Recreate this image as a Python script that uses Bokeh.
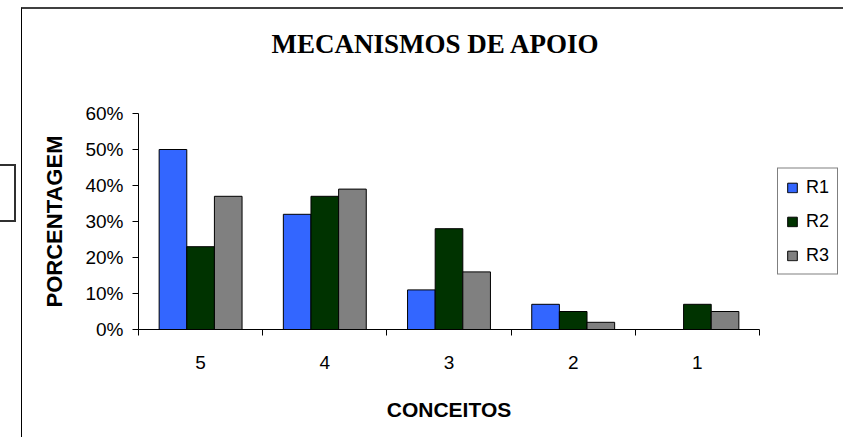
from bokeh.plotting import figure
from bokeh.models import (Range1d, FixedTicker, PrintfTickFormatter, Legend, LegendItem,
                          ColumnDataSource, InlineStyleSheet, Title)
from bokeh.embed import file_html
from bokeh.resources import INLINE

# ---- data ----
categories = ["5", "4", "3", "2", "1"]
series = ["R1", "R2", "R3"]
r1 = [50, 32, 11, 7, 0]
r2 = [23, 37, 28, 5, 7]
r3 = [37, 39, 16, 2, 5]
colors = ["#3366FF", "#003300", "#808080"]
y_ticks = [0, 10, 20, 30, 40, 50, 60]
title_text = "MECANISMOS DE APOIO"
x_title = "CONCEITOS"
y_title = "PORCENTAGEM"

n = len(categories)
p = figure(frame_width=621, frame_height=216, output_backend="svg", toolbar_location=None,
           x_range=Range1d(0, n), y_range=Range1d(0, 60),
           min_border_left=116, min_border_right=79,
           min_border_top=104, min_border_bottom=108)
p.margin = (7, 0, 0, 21)
p.styles = {"border-top": "2px solid #404040", "border-left": "1px solid black",
            "border-right": "1px solid black"}
p.stylesheets = [InlineStyleSheet(css=":host::before { content: ''; position: absolute; "
                                      "left: -24px; top: 155px; width: 14px; height: 54px; "
                                      "border: 2px solid #303030; }")]
p.background_fill_color = "white"
p.border_fill_color = "white"
p.outline_line_color = None
p.xgrid.visible = False
p.ygrid.visible = False

# spacer between the frame and the title (empty-looking, keeps the title high)
spacer = Title(text=" ", text_font_size="1px", standoff=52)
p.add_layout(spacer, "above")

p.title.text = title_text
p.title.align = "left"
p.title.offset = 133
p.title.text_font = "Liberation Serif"
p.title.text_font_style = "bold"
p.title.text_font_size = "27px"
p.title.text_color = "black"
p.title.standoff = 0

bar_w = 0.2225
offsets = [-bar_w, 0.0, bar_w]
renderers = []
for name, vals, col, off in zip(series, [r1, r2, r3], colors, offsets):
    src = ColumnDataSource(dict(x=[i + 0.5 + off for i in range(n)], top=vals, cat=categories))
    r = p.vbar(x="x", top="top", bottom=0, width=bar_w, source=src,
               fill_color=col, line_color="black", line_width=1)
    renderers.append((name, r))

# x axis: labels at category centres, tick marks at category boundaries
centers = [i + 0.5 for i in range(n)]
xax = p.xaxis[0]
xax.ticker = FixedTicker(ticks=centers, minor_ticks=list(range(n + 1)))
xax.major_label_overrides = {c: lab for c, lab in zip(centers, categories)}
xax.major_tick_in = 0
xax.major_tick_out = 0
xax.minor_tick_in = 0
xax.minor_tick_out = 6
xax.minor_tick_line_color = "black"
xax.axis_line_color = "black"
xax.major_label_standoff = 20
xax.major_label_text_font = "Liberation Sans"
xax.major_label_text_font_size = "19px"
xax.major_label_text_color = "black"
xax.axis_label = x_title
xax.axis_label_text_font = "Liberation Sans"
xax.axis_label_text_font_style = "bold"
xax.axis_label_text_font_size = "21px"
xax.axis_label_text_color = "black"
xax.axis_label_standoff = 26

yax = p.yaxis[0]
yax.ticker = FixedTicker(ticks=y_ticks, minor_ticks=[])
yax.formatter = PrintfTickFormatter(format="%d%%")
yax.major_tick_in = 0
yax.major_tick_out = 6
yax.major_tick_line_color = "black"
yax.axis_line_color = "black"
yax.major_label_standoff = 9
yax.major_label_text_font = "Liberation Sans"
yax.major_label_text_font_size = "19px"
yax.major_label_text_color = "black"
yax.axis_label = y_title
yax.axis_label_text_font = "Liberation Sans"
yax.axis_label_text_font_style = "bold"
yax.axis_label_text_font_size = "22px"
yax.axis_label_text_color = "black"
yax.axis_label_standoff = 15

legend = Legend(items=[LegendItem(label=nm, renderers=[r]) for nm, r in renderers],
                location="center_left", orientation="vertical")
legend.glyph_width = 12
legend.glyph_height = 12
legend.label_height = 20
legend.label_standoff = 8
legend.spacing = 13
legend.padding = 8
legend.margin = 18
legend.border_line_color = "black"
legend.border_line_width = 1
legend.background_fill_color = "white"
legend.label_text_font = "Liberation Sans"
legend.label_text_font_size = "18px"
legend.label_text_color = "black"
p.add_layout(legend, "right")

open("out.html", "w").write(file_html(p, INLINE))
